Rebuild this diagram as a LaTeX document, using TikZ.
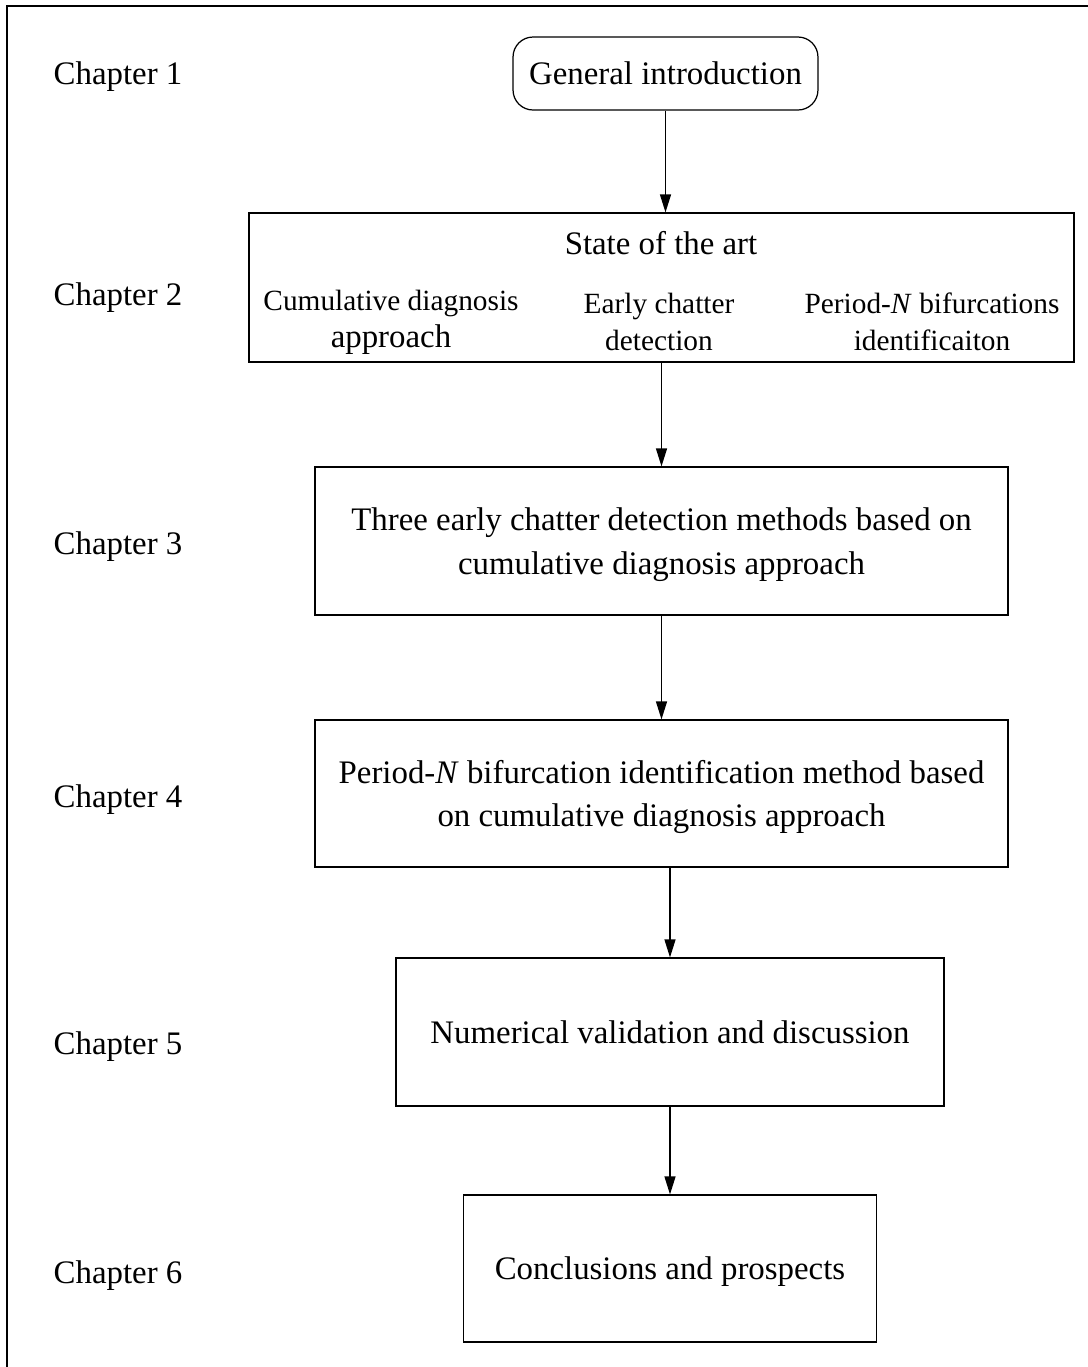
\documentclass[tikz,border=0pt]{standalone}
\usepackage{fontspec}
\setmainfont{Liberation Serif}
\usetikzlibrary{arrows.meta}

\begin{document}
\begin{tikzpicture}[x=0.02cm,y=-0.02cm,
        font=\fontsize{18.7}{24.8}\selectfont,
        every node/.style={text depth=0pt},
        box/.style={draw,line width=0.7pt,align=center,inner sep=0pt},
        sub/.style={align=center,font=\fontsize{16.7}{21}\selectfont},
        flow/.style={-{Triangle[length=0.36cm,width=0.22cm]},line width=0.7pt}]
            \useasboundingbox (0,0) rectangle (1088,1367);
            \draw[line width=0.7pt] (7,1367) |- (1088,6);
            % chapters on the left
            \foreach \n/\y in {1/73,2/294,3/543,4/796,5/1043,6/1272}
                \node (ch\n) at (118,\y) {Chapter \n};
            % boxes
            \node[box,rounded corners=0.4cm,minimum width=6.1cm,minimum height=1.46cm] (intro) at (665.5,73.5) {General introduction};
            \node[box,minimum width=16.5cm,minimum height=2.98cm] (art) at (661.5,287.5) {};
            \node (arttitle) at (661,243) {State of the art};
            \node[sub] (cumul) at (391,319) {Cumulative diagnosis\\{\fontsize{18.7}{21}\selectfont approach}};
            \node[sub] (early) at (659,322) {Early chatter\\detection};
            \node[sub] (bifur) at (932,321.5) {Period-\textit{N} bifurcations\\identificaiton};
            \node[box,minimum width=13.86cm,minimum height=2.96cm] (methods) at (661.5,541) {Three early chatter detection methods based on\\cumulative diagnosis approach};
            \node[box,minimum width=13.86cm,minimum height=2.94cm] (period) at (661.5,793.5) {Period-\textit{N} bifurcation identification method based\\on cumulative diagnosis approach};
            \node[box,minimum width=10.96cm,minimum height=2.96cm] (numval) at (670,1032) {Numerical validation and discussion};
            \node[box,minimum width=8.26cm,minimum height=2.94cm] (concl) at (670,1268.5) {Conclusions and prospects};
            % arrows
            \draw[flow] (intro) -- (intro |- art.north);
            \draw[flow] (art) -- (methods);
            \draw[flow] (methods) -- (period);
            \draw[flow] (period.south -| numval) -- (numval);
            \draw[flow] (numval) -- (concl);
        \end{tikzpicture}
\end{document}
